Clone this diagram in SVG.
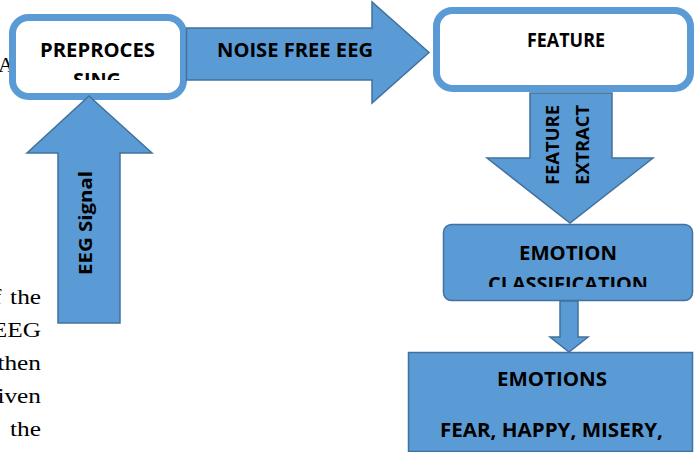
<svg xmlns="http://www.w3.org/2000/svg" width="694" height="452" viewBox="0 0 694 452">
<style>
.bg{font-family:"Liberation Serif","Times New Roman",serif;font-size:22px;fill:#000}
.t{font-family:"Open Sans","Liberation Sans",Arial,sans-serif;font-weight:bold;fill:#000;text-anchor:middle}
.box{fill:#fff;stroke:#5b9bd5;stroke-width:7}
.blue{fill:#5b9bd5;stroke:#41719c;stroke-width:1.5}
</style>
<defs>
<clipPath id="cp1"><rect x="16" y="20" width="164" height="60"/></clipPath>
<clipPath id="cp2"><rect x="445" y="226" width="246" height="61"/></clipPath>
</defs>
<g id="background-text">
<text class="bg" x="-2" y="72" font-size="24">A</text>
<g transform="translate(41,0) scale(1.15,1) translate(-41,0)">
<text class="bg" x="41" y="304" text-anchor="end" word-spacing="2">f the</text>
<text class="bg" x="41" y="337" text-anchor="end">EEG</text>
<text class="bg" x="41" y="370" text-anchor="end">then</text>
<text class="bg" x="41" y="403" text-anchor="end">iven</text>
<text class="bg" x="41" y="436" text-anchor="end">the</text>
</g>
</g>
<g id="preprocessing">
<rect class="box" x="12.5" y="17.5" width="171" height="79" rx="16"/>
<g clip-path="url(#cp1)">
<text class="t" x="97.5" y="57" font-size="20" textLength="115" lengthAdjust="spacingAndGlyphs">PREPROCES</text>
<text class="t" x="97" y="87" font-size="20" textLength="48" lengthAdjust="spacingAndGlyphs">SING</text>
</g>
</g>
<g id="feature">
<rect class="box" x="436.5" y="10.5" width="254" height="78" rx="16"/>
<text class="t" x="566" y="47" font-size="19" textLength="78" lengthAdjust="spacingAndGlyphs">FEATURE</text>
</g>
<g id="emotion-classification">
<rect class="blue" x="443.5" y="224.5" width="249" height="76" rx="8"/>
<g clip-path="url(#cp2)">
<text class="t" x="568" y="260" font-size="20" textLength="98" lengthAdjust="spacingAndGlyphs">EMOTION</text>
<text class="t" x="568" y="291" font-size="20" textLength="160" lengthAdjust="spacingAndGlyphs">CLASSIFICATION</text>
</g>
</g>
<g id="emotions">
<rect class="blue" x="408.5" y="352.5" width="284" height="99"/>
<text class="t" x="552" y="386" font-size="20" textLength="110" lengthAdjust="spacingAndGlyphs">EMOTIONS</text>
<text class="t" x="551.5" y="437" font-size="20" textLength="223" lengthAdjust="spacingAndGlyphs">FEAR, HAPPY, MISERY,</text>
</g>
<g id="connectors">
<g id="noise-free-eeg">
<polygon class="blue" points="186.5,28 372,28 372,2 429,52.5 372,103 372,80 186.5,80"/>
<text class="t" x="295" y="57" font-size="20" textLength="156" lengthAdjust="spacingAndGlyphs">NOISE FREE EEG</text>
</g>
<g id="eeg-signal">
<polygon class="blue" points="89,96 152,153 120,153 120,323 58,323 58,153 27,153"/>
<text class="t" transform="translate(92,223) rotate(-90)" x="0" y="0" font-size="17" textLength="104" lengthAdjust="spacingAndGlyphs">EEG Signal</text>
</g>
<g id="feature-extract">
<polygon class="blue" points="530,93 612,93 612,158 653,158 570,223 487,158 530,158"/>
<text class="t" transform="translate(559,145) rotate(-90)" x="0" y="0" font-size="17" textLength="80" lengthAdjust="spacingAndGlyphs">FEATURE</text>
<text class="t" transform="translate(589,145) rotate(-90)" x="0" y="0" font-size="17" textLength="80" lengthAdjust="spacingAndGlyphs">EXTRACT</text>
</g>
<g id="to-emotions">
<polygon class="blue" points="560,301 578,301 578,337 588,337 569,352 550,337 560,337"/>
</g>
</g>
</svg>
